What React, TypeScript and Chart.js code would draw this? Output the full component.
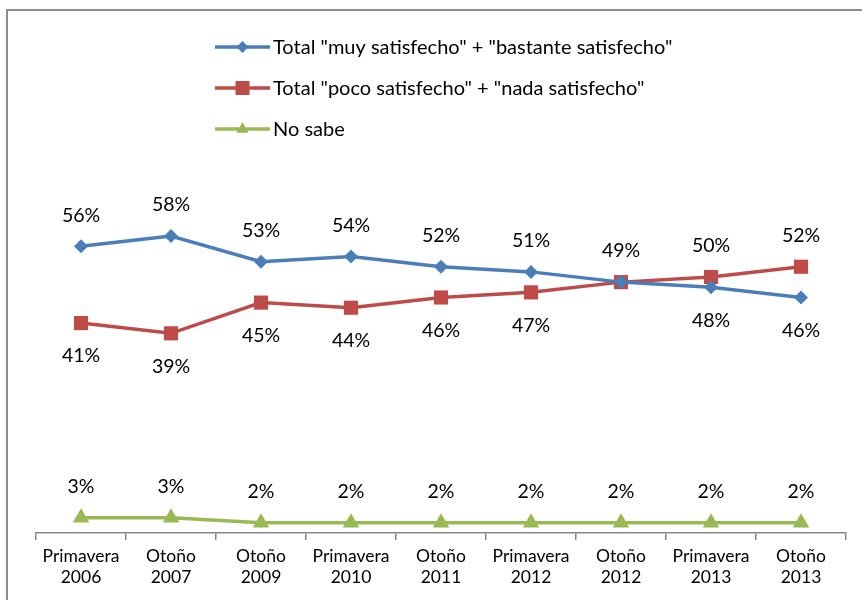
import React, { useEffect, useRef } from "react";
import { Chart, registerables } from "chart.js";

Chart.register(...registerables);

const categories: string[][] = [
  ["Primavera", "2006"],
  ["Otoño", "2007"],
  ["Otoño", "2009"],
  ["Primavera", "2010"],
  ["Otoño", "2011"],
  ["Primavera", "2012"],
  ["Otoño", "2012"],
  ["Primavera", "2013"],
  ["Otoño", "2013"],
];

const satisfiedLabel = 'Total "muy satisfecho" + "bastante satisfecho"';
const unsatisfiedLabel = 'Total "poco satisfecho" + "nada satisfecho"';
const dontKnowLabel = "No sabe";

const satisfied = [56, 58, 53, 54, 52, 51, 49, 48, 46];
const unsatisfied = [41, 39, 45, 44, 46, 47, 49, 50, 52];
const dontKnow = [3, 3, 2, 2, 2, 2, 2, 2, 2];

const FONT = "Lato, 'Open Sans', sans-serif";

const dataLabelPlugin = {
  id: "dataLabels",
  afterDatasetsDraw(chart: any) {
    const ctx = chart.ctx;
    ctx.save();
    ctx.font = `19.5px ${FONT}`;
    ctx.fillStyle = "#000";
    ctx.textAlign = "center";
    ctx.textBaseline = "middle";
    const ds = chart.data.datasets;
    ds.forEach((d: any, i: number) => {
      const meta = chart.getDatasetMeta(i);
      meta.data.forEach((pt: any, j: number) => {
        const v = d.data[j];
        let above = true;
        if (i === 0 || i === 1) {
          const other = ds[1 - i].data[j];
          if (v > other) above = true;
          else if (v < other) above = false;
          else {
            if (i === 1) return;
            above = true;
          }
        }
        const y = above ? pt.y - 31 : pt.y + 33;
        ctx.fillText(`${v}%`, pt.x, y);
      });
    });
    ctx.restore();
  },
};

const legendPlugin = {
  id: "overlayLegend",
  afterDraw(chart: any) {
    const ctx = chart.ctx;
    ctx.save();
    const x0 = 215;
    const x1 = 270;
    const ys = [47, 88, 129];
    chart.data.datasets.forEach((d: any, i: number) => {
      const y = ys[i];
      ctx.strokeStyle = d.borderColor;
      ctx.lineWidth = d.borderWidth;
      ctx.beginPath();
      ctx.moveTo(x0, y);
      ctx.lineTo(x1, y);
      ctx.stroke();
      ctx.fillStyle = d.backgroundColor;
      const cx = (x0 + x1) / 2;
      ctx.beginPath();
      if (d.pointStyle === "rectRot") {
        const r = 6;
        ctx.moveTo(cx, y - r);
        ctx.lineTo(cx + r, y);
        ctx.lineTo(cx, y + r);
        ctx.lineTo(cx - r, y);
        ctx.closePath();
      } else if (d.pointStyle === "rect") {
        const h = 7;
        ctx.rect(cx - h, y - h, h * 2, h * 2);
      } else {
        const r = 7;
        ctx.moveTo(cx, y - r);
        ctx.lineTo(cx + r * 0.87, y + r * 0.55);
        ctx.lineTo(cx - r * 0.87, y + r * 0.55);
        ctx.closePath();
      }
      ctx.fill();
      ctx.fillStyle = "#000";
      ctx.font = `20px ${FONT}`;
      ctx.textAlign = "left";
      ctx.textBaseline = "middle";
      ctx.fillText(d.label, x1 + 3, y + 1);
    });
    ctx.restore();
  },
};

export default function App() {
  const ref = useRef<HTMLCanvasElement | null>(null);

  useEffect(() => {
    document.body.style.margin = "0";
    const canvas = ref.current;
    if (!canvas) return;
    const chart = new Chart(canvas, {
      type: "line",
      data: {
        labels: categories,
        datasets: [
          {
            label: satisfiedLabel,
            data: satisfied,
            borderColor: "#4A7EBB",
            backgroundColor: "#4A7EBB",
            borderWidth: 3.5,
            pointStyle: "rectRot",
            pointRadius: 7,
            pointBorderWidth: 0,
            tension: 0,
          },
          {
            label: unsatisfiedLabel,
            data: unsatisfied,
            borderColor: "#BE4B48",
            backgroundColor: "#BE4B48",
            borderWidth: 3.5,
            pointStyle: "rect",
            pointRadius: 10,
            pointBorderWidth: 0,
            tension: 0,
          },
          {
            label: dontKnowLabel,
            data: dontKnow,
            borderColor: "#98B954",
            backgroundColor: "#98B954",
            borderWidth: 3.5,
            pointStyle: "triangle",
            pointRadius: 9.5,
            pointBorderWidth: 0,
            tension: 0,
          },
        ],
      },
      options: {
        animation: false,
        responsive: false,
        maintainAspectRatio: false,
        layout: { padding: { left: 36, right: 16, top: 21, bottom: 6 } },
        plugins: {
          legend: { display: false },
          tooltip: { enabled: false },
        },
        scales: {
          x: {
            offset: true,
            grid: {
              display: true,
              offset: true,
              drawOnChartArea: false,
              drawTicks: true,
              tickLength: 7,
              color: "#868686",
              lineWidth: 1.5,
            },
            border: { display: true, color: "#868686", width: 1.5 },
            ticks: {
              color: "#000",
              font: { family: FONT, size: 17.5 },
              maxRotation: 0,
              autoSkip: false,
              padding: 6,
            },
          },
          y: {
            display: false,
            min: 0,
            max: 100,
          },
        },
      },
      plugins: [dataLabelPlugin, legendPlugin],
    });
    return () => chart.destroy();
  }, []);

  return (
    <div style={{ position: "fixed", left: 0, top: 0, width: 862, height: 600, background: "#fff", overflow: "hidden" }}>
      <div
        style={{
          position: "absolute",
          left: 6,
          top: 9,
          width: 900,
          height: 700,
          borderLeft: "2px solid #8c8c8c",
          borderTop: "2px solid #8c8c8c",
        }}
      />
      <canvas ref={ref} width={862} height={600} style={{ position: "absolute", left: 0, top: 0, width: 862, height: 600 }} />
    </div>
  );
}
